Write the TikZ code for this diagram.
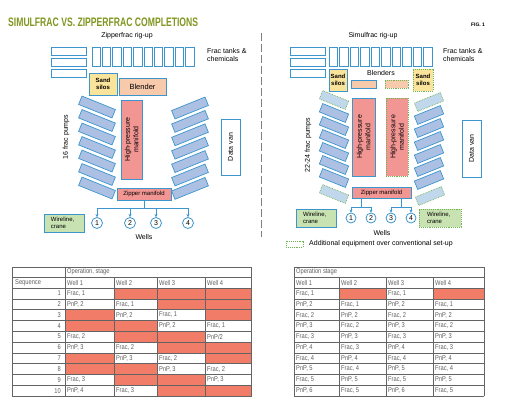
\documentclass[tikz,border=0pt]{standalone}
\usepackage{fontspec}
\setmainfont{Liberation Sans}
\newfontfamily\titlefont{Liberation Sans}[FakeStretch=0.7]
\newfontfamily\tabfont{Liberation Sans}[FakeStretch=0.82]
\usetikzlibrary{arrows.meta}

\definecolor{rigblue}{RGB}{60,150,205}
\definecolor{pumpblue}{RGB}{172,192,228}
\definecolor{pumplight}{RGB}{192,215,236}
\definecolor{extragreen}{RGB}{110,180,80}
\definecolor{silo}{RGB}{250,228,155}
\definecolor{blend}{RGB}{248,202,172}
\definecolor{manif}{RGB}{242,150,148}
\definecolor{wire}{RGB}{200,226,178}
\definecolor{cellred}{RGB}{241,125,105}
\definecolor{titleolive}{RGB}{128,150,30}
\definecolor{tabline}{RGB}{100,100,100}
\definecolor{tabgray}{RGB}{95,95,95}

\begin{document}
\begin{tikzpicture}[x=1pt,y=-1pt,
  tank/.style={draw=rigblue, line width=0.9pt, fill=white},
  rigbox/.style={draw=rigblue, line width=0.9pt, inner sep=0pt, align=center},
  extra/.style={draw=extragreen, densely dotted, line width=0.9pt, inner sep=0pt, align=center},
  pump/.style={draw=rigblue, fill=pumpblue, line width=0.7pt, inner sep=0pt, minimum width=36pt, minimum height=9pt},
  spump/.style={pump, minimum width=28pt},
  xpump/.style={spump, fill=pumplight, draw=extragreen, densely dotted},
  well/.style={circle, draw=rigblue, line width=0.8pt, fill=white, inner sep=0pt, minimum size=11pt, font=\fontsize{7}{7}\selectfont},
  lbl/.style={inner sep=0pt, font=\fontsize{7}{8.5}\selectfont},
  pipe/.style={draw=rigblue, line width=0.8pt},
  cell/.style={inner sep=0pt, anchor=west, text=tabgray, font=\tabfont\fontsize{7}{7}\selectfont},
  tabrule/.style={draw=tabline, line width=0.5pt}
]
\fill[white] (0,0) rectangle (513,412);
\useasboundingbox (0,0) rectangle (513,412);

%TITLE
\node[anchor=west, inner sep=0pt, text=titleolive, font=\titlefont\bfseries\fontsize{12.3}{12}\selectfont] (title) at (8,22.5) {SIMULFRAC VS. ZIPPERFRAC COMPLETIONS};
\node[inner sep=0pt, font=\bfseries\fontsize{5}{5}\selectfont] (fig) at (478,25) {FIG. 1};

%%%%%%%%%%%%%%%%%%%%%%%%%%%%
%ZIPPERFRAC RIG-UP
\node[lbl] (zrig) at (127,36) {Zipperfrac rig-up};

%tanks
\foreach \y in {47,58,69} \filldraw[tank] (51,\y) rectangle (86,\y+8);
\foreach \i in {0,...,9} \filldraw[tank] (92+10.4*\i,47) rectangle (100.5+10.4*\i,66);
\node[lbl, anchor=west, align=left] (ztanks) at (207,55) {Frac tanks \&\\chemicals};

\node[rigbox, fill=silo, minimum width=28pt, minimum height=22pt, font=\bfseries\fontsize{6}{7}\selectfont] (zsilo) at (103,84) {Sand\\silos};
\node[rigbox, fill=blend, minimum width=47pt, minimum height=17pt, font=\fontsize{7.5}{8}\selectfont] (zblend) at (142.5,86.5) {Blender};

%manifolds
\node[rigbox, fill=manif, minimum width=21pt, minimum height=79pt] (zhp) at (131.5,139.5) {};
\node[lbl, rotate=90, align=center] (zhptxt) at (zhp) {High-pressure\\manifold};
\node[rigbox, fill=manif, minimum width=54pt, minimum height=12pt, font=\fontsize{6}{7}\selectfont] (zzip) at (144,194) {Zipper manifold};

%pumps
\foreach \i in {0,...,6} {
  \node[pump, rotate=-22] (zpl\i) at (97,107+13.5*\i) {};
  \node[pump, rotate=22] (zpr\i) at (190,108+13.4*\i) {};
}
\node[lbl, rotate=90] (zpumps) at (66,137) {16 frac pumps};

\node[rigbox, fill=white, minimum width=19pt, minimum height=56pt] (zvan) at (230.5,147) {};
\node[lbl, rotate=90] (zvantxt) at (zvan) {Data van};

%wells
\node[rigbox, fill=wire, minimum width=40pt, minimum height=18pt, align=left, font=\fontsize{6}{7}\selectfont] (zwire) at (64,223) {Wireline,\\crane\hspace*{11pt}};
\node[well] (zw1) at (97,223) {1};
\node[well] (zw2) at (130,223) {2};
\node[well] (zw3) at (156,223) {3};
\node[well] (zw4) at (188,223) {4};
\draw[pipe] (zzip.south) -- ++(0,8) coordinate (zbus);
\draw[pipe] (zw1 |- zbus) -- (zw4 |- zbus);
\foreach \i in {1,...,4} \draw[pipe, -{Stealth[length=3pt,width=3pt]}] (zw\i |- zbus) -- (zw\i.north);
\node[lbl] (zwells) at (144,237) {Wells};

%%%%%%%%%%%%%%%%%%%%%%%%%%%%
\draw[gray, line width=0.8pt, dash pattern=on 8pt off 3pt] (261,33) -- (261,237);

%%%%%%%%%%%%%%%%%%%%%%%%%%%%
%SIMULFRAC RIG-UP
\node[lbl] (srig) at (373,36) {Simulfrac rig-up};

%tanks
\foreach \y in {47,58,69} \filldraw[tank] (290,\y) rectangle (325,\y+8);
\foreach \i in {0,...,9} \filldraw[tank] (329+10.5*\i,47) rectangle (337.5+10.5*\i,66);
\node[lbl, anchor=west, align=left] (stanks) at (443,55) {Frac tanks \&\\chemicals};

\node[rigbox, fill=silo, minimum width=18pt, minimum height=22pt, font=\bfseries\fontsize{6}{7}\selectfont] (ssilo) at (338,80) {Sand\\silos};
\node[extra, fill=silo, minimum width=20pt, minimum height=22pt, font=\bfseries\fontsize{6}{7}\selectfont] (ssilo2) at (423,80) {Sand\\silos};
\node[lbl] (sblendtxt) at (381,73) {Blenders};
\node[rigbox, fill=blend, minimum width=25pt, minimum height=8pt] (sblend) at (363.5,84) {};
\node[extra, fill=blend, minimum width=23pt, minimum height=8pt] (sblend2) at (396.5,84) {};

%manifolds
\node[rigbox, fill=manif, minimum width=23pt, minimum height=78pt] (shp) at (363.5,137) {};
\node[lbl, rotate=90, align=center] (shptxt) at (shp) {High-pressure\\manifold};
\node[extra, fill=manif, minimum width=22pt, minimum height=78pt] (shp2) at (397,137) {};
\node[lbl, rotate=90, align=center] (shp2txt) at (shp2) {High-pressure\\manifold};
\node[rigbox, fill=manif, minimum width=59pt, minimum height=11pt, font=\fontsize{6}{7}\selectfont] (szip) at (381.5,192.5) {Zipper manifold};

%pumps
\node[xpump, rotate=-22] (spl0) at (334,100) {};
\node[xpump, rotate=22] (spr0) at (429,102) {};
\foreach \i in {1,...,6} {
  \node[spump, rotate=-22] (spl\i) at (334,100+13*\i) {};
  \node[spump, rotate=22] (spr\i) at (429,102+13*\i) {};
}
\node[xpump, rotate=-22] (spl7) at (334,194) {};
\node[xpump, rotate=22] (spr7) at (430,196) {};
\node[lbl, rotate=90] (spumps) at (308,145) {22-24 frac pumps};

\node[rigbox, fill=white, minimum width=19pt, minimum height=57pt] (svan) at (471.5,148.5) {};
\node[lbl, rotate=90] (svantxt) at (svan) {Data van};

%wells
\node[rigbox, fill=wire, minimum width=40pt, minimum height=18pt, align=left, font=\fontsize{6}{7}\selectfont] (swire) at (316,218) {Wireline,\\crane\hspace*{11pt}};
\node[extra, fill=wire, minimum width=42pt, minimum height=18pt, align=left, font=\fontsize{6}{7}\selectfont] (swire2) at (440,218) {Wireline,\\crane\hspace*{11pt}};
\node[well, minimum size=10pt] (sw1) at (351,218) {1};
\node[well, minimum size=10pt] (sw2) at (371,218) {2};
\node[well, minimum size=10pt] (sw3) at (391,218) {3};
\node[well, minimum size=10pt] (sw4) at (411,218) {4};
\coordinate (sbusa) at (361,207);
\coordinate (sbusb) at (401,207);
\draw[pipe] (sbusa |- szip.south) -- (sbusa);
\draw[pipe] (sbusb |- szip.south) -- (sbusb);
\draw[pipe] (sw1 |- sbusa) -- (sw2 |- sbusa);
\draw[pipe] (sw3 |- sbusb) -- (sw4 |- sbusb);
\foreach \i in {1,...,4} \draw[pipe, -{Stealth[length=3pt,width=3pt]}] (sw\i |- sbusa) -- (sw\i.north);
\node[lbl] (swells) at (382,233) {Wells};

%legend
\node[extra, minimum width=17pt, minimum height=6pt] (legbox) at (294.5,244) {};
\node[lbl, anchor=west] (legtxt) at (309,244) {Additional equipment over conventional set-up};

%%%%%%%%%%%%%%%%%%%%%%%%%%%%
%ZIPPERFRAC TABLE
\foreach \xa/\xb/\r in {114/157/1,157/205/1,205/251/1,157/205/2,205/251/2,65/114/3,205/251/3,65/114/4,114/157/4,
  114/157/5,157/205/5,157/205/6,205/251/6,65/114/7,205/251/7,65/114/8,114/157/8,114/157/9,157/205/9,157/205/10,205/251/10}
  \filldraw[fill=cellred, draw=tabline, line width=0.5pt] (\xa,277.2+10.8*\r) rectangle (\xb,288+10.8*\r);
\foreach \k in {0,...,10} \draw[tabrule] (12,288+10.8*\k) -- (251,288+10.8*\k);
\draw[tabrule] (12,267) -- (251,267);
\draw[tabrule] (12,277) -- (251,277);
\draw[tabrule] (12,267) -- (12,396);
\draw[tabrule] (65,267) -- (65,396);
\draw[tabrule] (251,267) -- (251,396);
\foreach \x in {114,157,205} \draw[tabrule] (\x,277) -- (\x,396);

\node[cell] (lop) at (67,272) {Operation, stage};
\node[cell] (lseq) at (15,282.5) {Sequence};
\node[cell] (lh1) at (67,282.5) {Well 1};
\node[cell] (lh2) at (116,282.5) {Well 2};
\node[cell] (lh3) at (159,282.5) {Well 3};
\node[cell] (lh4) at (207,282.5) {Well 4};
\foreach \r in {1,...,10} \node[cell, anchor=east] (ln\r) at (61,282.6+10.8*\r) {\r};
\foreach \x/\r/\t in {67/1/{Frac, 1},67/2/{PnP, 2},116/2/{Frac, 1},116/3/{PnP, 2},159/3/{Frac, 1},159/4/{PnP, 2},207/4/{Frac, 1},
  67/5/{Frac, 2},207/5/{PnP/2},67/6/{PnP, 3},116/6/{Frac, 2},116/7/{PnP, 3},159/7/{Frac, 2},159/8/{PnP, 3},207/8/{Frac, 2},
  67/9/{Frac, 3},207/9/{PnP, 3},67/10/{PnP, 4},116/10/{Frac, 3}}
  \node[cell] (lt\x-\r) at (\x,282.6+10.8*\r) {\t};

%%%%%%%%%%%%%%%%%%%%%%%%%%%%
%SIMULFRAC TABLE
\fill[cellred] (339,288) rectangle (386,298.8);
\fill[cellred] (433,288) rectangle (484,298.8);
\foreach \k in {0,...,10} \draw[tabrule] (294,288+10.8*\k) -- (484,288+10.8*\k);
\draw[tabrule] (294,267) -- (484,267);
\draw[tabrule] (294,277) -- (484,277);
\draw[tabrule] (294,267) -- (294,396);
\draw[tabrule] (484,267) -- (484,396);
\foreach \x in {339,386,433} \draw[tabrule] (\x,277) -- (\x,396);

\node[cell] (rop) at (296,272) {Operation stage};
\node[cell] (rh1) at (296,282.5) {Well 1};
\node[cell] (rh2) at (341,282.5) {Well 2};
\node[cell] (rh3) at (388,282.5) {Well 3};
\node[cell] (rh4) at (435,282.5) {Well 4};
\node[cell] (rt1a) at (296,293.4) {Frac, 1};
\node[cell] (rt1c) at (388,293.4) {Frac, 1};
\foreach \r [evaluate=\r as \n using {int(\r/2+1)}, evaluate=\r as \m using {int((\r-1)/2+1)}] in {2,...,10} {
  \ifodd\r
    \node[cell] (rt\r a) at (296,282.6+10.8*\r) {Frac, \m};
    \node[cell] (rt\r b) at (341,282.6+10.8*\r) {PnP, \m};
    \node[cell] (rt\r c) at (388,282.6+10.8*\r) {Frac, \m};
    \node[cell] (rt\r d) at (435,282.6+10.8*\r) {PnP, \m};
  \else
    \node[cell] (rt\r a) at (296,282.6+10.8*\r) {PnP, \n};
    \node[cell] (rt\r b) at (341,282.6+10.8*\r) {Frac, \the\numexpr\n-1\relax};
    \node[cell] (rt\r c) at (388,282.6+10.8*\r) {PnP, \n};
    \node[cell] (rt\r d) at (435,282.6+10.8*\r) {Frac, \the\numexpr\n-1\relax};
  \fi
}
\end{tikzpicture}
\end{document}
